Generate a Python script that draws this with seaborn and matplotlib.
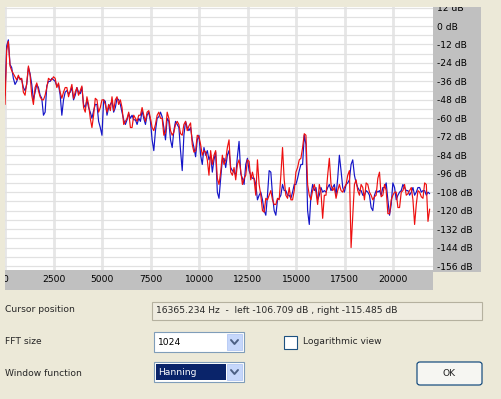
import numpy as np
import pandas as pd
import matplotlib
matplotlib.use("Agg")
import matplotlib.pyplot as plt
import seaborn as sns
from matplotlib.patches import Rectangle, FancyBboxPatch
from matplotlib.lines import Line2D

# ---------------- data ----------------
BIN_HZ = 44100 / 1024 * 2          # every 2nd FFT bin
left_db = [-51, -16, -10, -26, -29, -31, -33, -35, -32, -35,
           -34, -43, -45, -37, -26, -32, -45, -51, -40, -37,
           -42, -46, -48, -48, -45, -40, -34, -35, -35, -33,
           -34, -40, -37, -43, -47, -43, -40, -40, -46, -42,
           -38, -47, -43, -40, -45, -42, -39, -53, -56, -46,
           -51, -60, -66, -58, -47, -48, -56, -53, -48, -48,
           -51, -56, -51, -55, -46, -55, -48, -46, -51, -48,
           -53, -64, -62, -60, -56, -66, -66, -58, -60, -62,
           -58, -58, -53, -58, -62, -56, -55, -60, -66, -68,
           -64, -58, -56, -60, -60, -71, -69, -56, -60, -68,
           -71, -69, -64, -62, -64, -70, -71, -64, -62, -68,
           -65, -63, -77, -82, -81, -71, -72, -77, -84, -81,
           -82, -87, -97, -81, -90, -84, -81, -99, -103, -95,
           -84, -90, -87, -79, -74, -95, -97, -92, -100, -90,
           -87, -94, -103, -99, -97, -87, -88, -100, -95, -100,
           -110, -87, -103, -110, -120, -121, -112, -113, -110, -107,
           -113, -116, -116, -112, -113, -97, -79, -100, -110, -112,
           -105, -113, -113, -107, -95, -92, -87, -86, -79, -70,
           -71, -103, -110, -113, -107, -103, -108, -116, -103, -108,
           -125, -110, -110, -97, -86, -103, -107, -105, -112, -107,
           -103, -107, -108, -105, -103, -97, -94, -144, -123, -103,
           -100, -107, -110, -103, -105, -113, -102, -103, -108, -110,
           -113, -111, -110, -99, -95, -111, -110, -103, -107, -122,
           -122, -113, -110, -108, -108, -118, -118, -108, -107, -103,
           -110, -109, -107, -105, -113, -129, -116, -107, -108, -111,
           -112, -102, -103, -127,
           -119]
right_db = [-45, -13, -9, -25, -27, -34, -38, -36, -33, -34,
            -35, -40, -42, -38, -27, -31, -38, -48, -43, -38,
            -40, -45, -47, -58, -56, -39, -36, -36, -34, -35,
            -36, -39, -38, -45, -58, -48, -43, -42, -44, -43,
            -40, -48, -45, -40, -43, -44, -40, -51, -53, -48,
            -53, -56, -60, -55, -51, -51, -62, -66, -71, -48,
            -49, -58, -53, -51, -49, -56, -53, -47, -48, -51,
            -56, -61, -64, -61, -57, -60, -58, -61, -61, -64,
            -60, -62, -55, -60, -64, -58, -56, -62, -74, -81,
            -68, -60, -59, -56, -59, -66, -74, -60, -62, -74,
            -79, -68, -62, -64, -66, -81, -94, -71, -62, -66,
            -68, -66, -74, -79, -85, -74, -71, -84, -90, -79,
            -84, -81, -87, -84, -95, -87, -82, -108, -112, -99,
            -87, -86, -92, -84, -81, -92, -94, -95, -97, -85,
            -75, -96, -99, -103, -90, -86, -94, -97, -99, -99,
            -103, -113, -110, -108, -113, -120, -123, -110, -94, -95,
            -110, -120, -123, -113, -112, -110, -103, -107, -107, -110,
            -110, -112, -108, -103, -103, -99, -94, -90, -90, -71,
            -77, -120, -129, -110, -103, -107, -105, -113, -110, -105,
            -108, -107, -108, -105, -103, -107, -105, -103, -110, -99,
            -84, -94, -105, -108, -103, -102, -100, -90, -87, -97,
            -102, -105, -107, -107, -110, -110, -107, -108, -110, -118,
            -120, -110, -107, -108, -107, -110, -105, -105, -102, -113,
            -123, -116, -102, -105, -113, -110, -108, -107, -103, -105,
            -107, -107, -110, -108, -105, -110, -108, -105, -105, -108,
            -107, -107, -110, -108,
            -109]
freq_hz = np.arange(len(left_db)) * BIN_HZ

x_ticks = [0, 2500, 5000, 7500, 10000, 12500, 15000, 17500, 20000]
y_ticks = [12, 0, -12, -24, -36, -48, -60, -72, -84, -96, -108, -120, -132, -144, -156]
y_tick_labels = [f"{v} dB" for v in y_ticks]

cursor_text = "16365.234 Hz  -  left -106.709 dB , right -115.485 dB"
fft_size = "1024"
window_fn = "Hanning"

df = pd.DataFrame({
    "freq": np.concatenate([freq_hz, freq_hz]),
    "db": left_db + right_db,
    "channel": ["left"] * len(left_db) + ["right"] * len(right_db),
})

# ---------------- figure ----------------
sns.set_style("white")
plt.rcParams["font.family"] = ["DejaVu Sans"]
FS = 6.6
W, H = 502, 399
BEIGE = "#ece9d8"
fig = plt.figure(figsize=(W / 100, H / 100), dpi=100, facecolor=BEIGE)


def fx(px):
    return px / W


def fy(py):
    return 1 - py / H


def rect(x0, y0, x1, y1, **kw):
    r = Rectangle((fx(x0), fy(y1)), (x1 - x0) / W, (y1 - y0) / H,
                  transform=fig.transFigure, **kw)
    fig.add_artist(r)
    return r


# grey panels behind the tick labels
rect(433, 7, 481, 272, fc="#c0c0c0", ec="none", zorder=-5)
rect(5, 270, 433, 290, fc="#c0c0c0", ec="none", zorder=-5)

ax = fig.add_axes([fx(5), fy(270), 428 / W, 263 / H])
ax.set_facecolor("white")
sns.lineplot(data=df, x="freq", y="db", hue="channel", hue_order=["right", "left"],
             palette={"left": "#ee0f0f", "right": "#1414c8"}, linewidth=0.85,
             estimator=None, sort=False, legend=False, ax=ax)
ax.set_xlim(0, 22050)
ax.set_ylim(-158.6, 12.35)
for s in ax.spines.values():
    s.set_visible(False)

ax.set_xticks(x_ticks)
ax.set_xticklabels([str(v) for v in x_ticks])
ax.set_yticks(y_ticks)
ax.set_yticklabels(y_tick_labels)
ax.set_yticks(np.arange(6, -157, -12), minor=True)
ax.yaxis.tick_right()
ax.tick_params(axis="both", which="both", length=0, labelsize=FS, colors="black")
ax.tick_params(axis="y", pad=3)
ax.tick_params(axis="x", pad=3.3)
ax.set_xlabel("")
ax.set_ylabel("")
ax.grid(axis="x", color="#e6e6e6", lw=2.0)
ax.grid(axis="y", which="both", color="#e1e1e1", lw=0.9)
ax.set_axisbelow(True)

# beige covers that cut the overflowing tick labels at the panel edges
rect(0, 266, 5, 295, fc=BEIGE, ec="none", zorder=5)
rect(433, 0, 490, 7, fc=BEIGE, ec="none", zorder=5)

# ---------------- dialog controls ----------------
def label(px, py, s, **kw):
    kw.setdefault("fontsize", FS)
    kw.setdefault("va", "center")
    kw.setdefault("ha", "left")
    fig.text(fx(px), fy(py), s, **kw)


label(5, 310, "Cursor position")
rect(152, 302, 482, 320, fc="#efece0", ec="#b5b19f", lw=0.8)
label(156, 310.5, cursor_text)

label(5, 342, "FFT size")
label(5, 373, "Window function")


def combo(y0, text, selected=False):
    rect(154, y0, 244, y0 + 20, fc="white", ec="#7f9db9", lw=0.8)
    if selected:
        rect(156, y0 + 2, 226, y0 + 18, fc="#0a246a", ec="none")
    rect(227, y0 + 2, 242, y0 + 18, fc="#c6d7fb", ec="#b4c8f4", lw=0.6)
    fig.add_artist(Line2D([fx(231), fx(234.5), fx(238)],
                          [fy(y0 + 8), fy(y0 + 12), fy(y0 + 8)],
                          transform=fig.transFigure, color="#4d6185", lw=1.4))
    label(158, y0 + 10.5, text, color="white" if selected else "black")


combo(332, fft_size)
combo(362, window_fn, selected=True)

rect(284, 336, 297, 349, fc="white", ec="#1c5180", lw=0.8)
label(303, 342, "Logarithmic view")

ok = FancyBboxPatch((fx(417), fy(385)), 65 / W, 23 / H,
                    boxstyle="round,pad=0,rounding_size=0.006",
                    transform=fig.transFigure, fc="#f6f6f2", ec="#003c74", lw=0.8)
fig.add_artist(ok)
label(449.5, 373.5, "OK", ha="center")

fig.savefig("out.png", dpi=100, facecolor=BEIGE)
